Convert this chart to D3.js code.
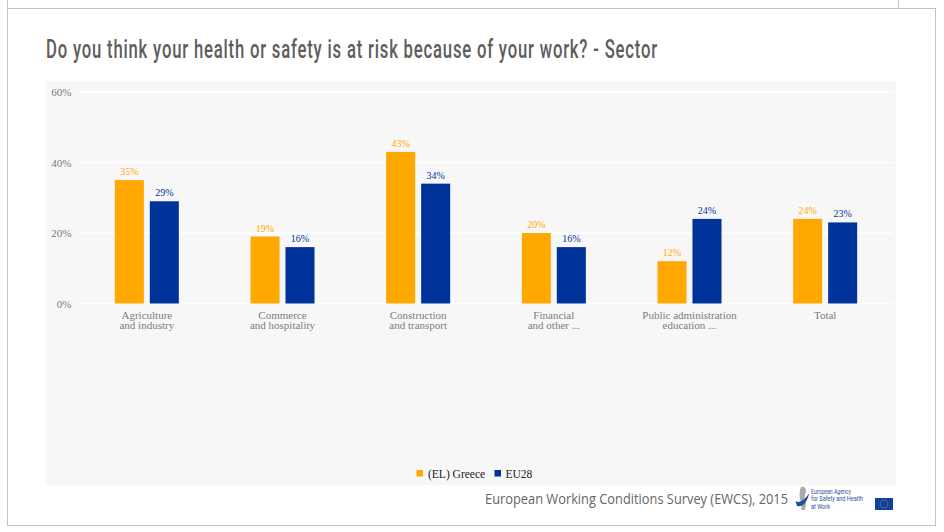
<!DOCTYPE html>
<html>
<head>
<meta charset="utf-8">
<script src="https://cdn.jsdelivr.net/npm/d3@7"></script>
<style>
html,body{margin:0;padding:0;background:#fff;overflow:hidden}
svg{display:block}
text{font-family:"Liberation Serif",serif}
</style>
</head>
<body>
<svg id="chart" width="944" height="532"></svg>
<script>
// Share of workers who feel their health or safety is at risk, by sector
const categories = [
  ["Agriculture", "and industry"],
  ["Commerce", "and hospitality"],
  ["Construction", "and transport"],
  ["Financial", "and other ..."],
  ["Public administration", "education ..."],
  ["Total"]
];
const seriesNames = ["(EL) Greece", "EU28"];
const greece = [35, 19, 43, 20, 12, 24];
const eu28 = [29, 16, 34, 16, 24, 23];
const yTicks = [0, 20, 40, 60];
const seriesColors = ["#ffa800", "#003399"];
const titleText = "Do you think your health or safety is at risk because of your work? - Sector";
const sourceText = "European Working Conditions Survey (EWCS), 2015";
const agencyLines = ["European Agency", "for Safety and Health", "at Work"];

const svg = d3.select("#chart");

// Page frame and the stub lines above it
const frame = svg.append("g").attr("fill", "none").attr("stroke", "#c4c4c4").attr("stroke-width", 1);
frame.append("rect").attr("x", 7.5).attr("y", 8.5).attr("width", 928).attr("height", 517);
frame.append("line").attr("x1", 7.5).attr("x2", 7.5).attr("y1", 0).attr("y2", 8);
frame.append("line").attr("x1", 898.5).attr("x2", 898.5).attr("y1", 0).attr("y2", 8);

// Title: a tall face with open tracking, squeezed horizontally to 612px
const title = svg.append("text")
  .style("font-family", 'Roboto,"Liberation Sans",sans-serif')
  .style("font-weight", 500).style("font-size", "25px").style("letter-spacing", "1.2px")
  .attr("fill", "#5e5e5e")
  .text(titleText);
title.attr("transform", `translate(46,58) scale(${612 / title.node().getComputedTextLength()},1)`);

// Chart panel
svg.append("rect").attr("x", 46).attr("y", 81).attr("width", 850).attr("height", 404).attr("fill", "#f7f7f7");

const x0 = d3.scaleBand().domain(d3.range(categories.length)).range([79, 893]);
const x1 = d3.scaleBand().domain(d3.range(seriesNames.length)).range([-32, 32]).paddingInner(0.17).paddingOuter(0);
const y = d3.scaleLinear().domain([0, 60]).range([303.5, 92]);

// Gridlines and value axis labels
svg.append("g").selectAll("line").data(yTicks).join("line")
  .attr("x1", 79).attr("x2", 893)
  .attr("y1", d => y(d)).attr("y2", d => y(d))
  .attr("stroke", "#ffffff").attr("stroke-width", 1.5);

svg.append("g").selectAll("text").data(yTicks).join("text")
  .attr("x", 71.5).attr("y", d => y(d) + 4)
  .attr("text-anchor", "end")
  .attr("fill", "#777777").style("font-size", "11px")
  .text(d => d + "%");

// Bars with their value labels, one group per sector
const seriesValues = [greece, eu28];
seriesValues.forEach((values, s) => {
  const g = svg.append("g");
  const cx = i => x0(i) + x0.bandwidth() / 2 + x1(s);
  g.selectAll("rect").data(values).join("rect")
    .attr("x", (d, i) => cx(i))
    .attr("y", d => y(d))
    .attr("width", x1.bandwidth())
    .attr("height", d => y(0) - y(d))
    .attr("fill", seriesColors[s]);
  g.selectAll("text").data(values).join("text")
    .attr("x", (d, i) => cx(i) + x1.bandwidth() / 2)
    .attr("y", d => y(d) - 5)
    .attr("text-anchor", "middle")
    .attr("fill", seriesColors[s]).style("font-size", "10px")
    .text(d => d + "%");
});

// Sector labels on two lines
svg.append("g").selectAll("text").data(categories).join("text")
  .attr("text-anchor", "middle")
  .attr("fill", "#7d7d7d").style("font-size", "11px")
  .each(function (lines, i) {
    d3.select(this).selectAll("tspan").data(lines).join("tspan")
      .attr("x", x0(i) + x0.bandwidth() / 2)
      .attr("y", (d, k) => 319 + k * 10)
      .text(d => d);
  });

// Legend
const legendX = [416.5, 494.5];
const legend = svg.append("g").selectAll("g").data(seriesNames).join("g")
  .attr("transform", (d, i) => `translate(${legendX[i]},470)`);
legend.append("rect").attr("width", 6.5).attr("height", 6.5).attr("fill", (d, i) => seriesColors[i]);
legend.append("text").attr("x", (d, i) => i ? 11 : 11.5).attr("y", 7.5)
  .attr("fill", "#222222").style("font-size", "11.5px").text(d => d);

// Source line
svg.append("text")
  .attr("x", 485).attr("y", 504)
  .attr("textLength", 303).attr("lengthAdjust", "spacingAndGlyphs")
  .style("font-family", '"Open Sans",sans-serif').style("font-size", "14px")
  .attr("fill", "#666666").text(sourceText);

// Agency emblem: a grey figure crossed by a blue sweep
const logo = svg.append("g");
logo.append("path")
  .attr("d", "M801 487 C806 486 807 491 805 495 C804 498 805 501 806 504 L805 510 L801.5 510 L801.5 503 C799 498 799 492 801 487 Z")
  .attr("fill", "#a9a9ab");
logo.append("path")
  .attr("d", "M795.5 501 C799 504 805 500 809 493 C808 501 803 508 797 506 Z")
  .attr("fill", "#1f4fa0");

// Condensed wordmark, each line squeezed to its own width
const agencyWidths = [40, 52, 19];
logo.append("g").selectAll("text").data(agencyLines).join("text")
  .attr("x", 811).attr("y", (d, i) => 493.5 + i * 7.8)
  .attr("textLength", (d, i) => agencyWidths[i]).attr("lengthAdjust", "spacingAndGlyphs")
  .style("font-family", 'Roboto,"Liberation Sans",sans-serif')
  .style("font-size", "8px").attr("fill", "#2a4f9c").text(d => d);

// EU flag with its ring of stars
logo.append("rect").attr("x", 875).attr("y", 498).attr("width", 18).attr("height", 12).attr("fill", "#12409b");
logo.append("g").selectAll("circle").data(d3.range(12)).join("circle")
  .attr("cx", i => 884 + 3.8 * Math.cos(i * Math.PI / 6))
  .attr("cy", i => 504 + 3.8 * Math.sin(i * Math.PI / 6))
  .attr("r", 0.45).attr("fill", "#ffd94a");
</script>
</body>
</html>
